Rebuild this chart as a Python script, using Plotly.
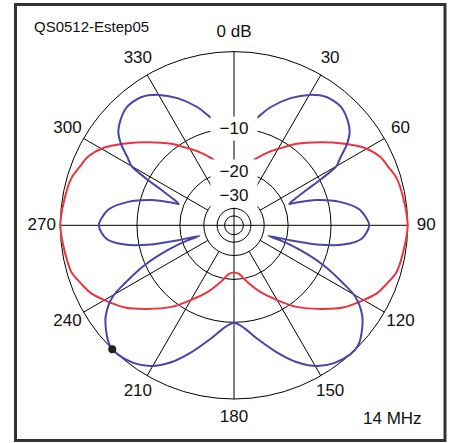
import plotly.graph_objects as go

# ---------------- data ----------------
RING_DB = [0, -10, -20, -30, -40, -50]
LABEL_DB = [-10, -20, -30]
LABEL_TEXT = ["\u221210", "\u221220", "\u221230"]
ANGLE_TICKS = [0, 30, 60, 90, 120, 150, 180, 210, 240, 270, 300, 330]
ANGLE_TEXT = ["0 dB", "30", "60", "90", "120", "150", "180", "210", "240", "270", "300", "330"]
SPOKE_ANGLES = [30, 60, 120, 150, 210, 240, 300, 330]
SPOKE_START_DB = -30
DIAMETER_ANGLES = [0, 90]

blue_theta = [0, 6, 12, 17, 24, 30, 36, 42, 47, 51, 54.5, 57.5, 60, 62, 64, 67, 69, 70, 73, 77.5,
              83, 90, 96, 100, 103, 105, 107, 108, 110.5, 114, 118, 120.5, 125, 129, 134, 138,
              144, 149.5, 155.5, 161.5, 168.5, 175, 180,
              185, 191.5, 198.5, 204.5, 210.5, 216, 222, 226, 231, 235, 239.5, 242, 246, 249.5,
              252, 253, 255, 257, 260, 264, 270, 277, 282.5, 287, 290, 291, 293, 296, 298, 300,
              302.5, 305.5, 309, 313, 318, 324, 330, 336, 343, 348, 354, 360]
blue_db = [-10.5, -9.6, -7.9, -5.9, -3.8, -2.45, -1.6, -1.45, -1.95, -2.65, -3.9, -5.5, -6.6, -9.6,
           -13.1, -17.0, -18.5, -16.4, -12.0, -8.1, -5.4, -4.3, -5.2, -7.7, -12.3, -18.9, -27.0,
           -22.0, -15.5, -9.9, -5.8, -3.6, -1.8, -0.9, -0.1, 0.0, -0.33, -1.06, -2.5, -4.5, -7.0,
           -9.1, -9.9,
           -9.1, -7.0, -4.5, -2.5, -1.06, -0.33, 0.0, -0.1, -0.9, -1.8, -3.6, -5.8, -9.9, -15.5,
           -22.0, -27.0, -18.9, -12.3, -7.7, -5.2, -4.3, -5.4, -8.1, -12.0, -16.4, -18.5, -17.0,
           -13.1, -9.6, -6.6, -5.5, -3.9, -2.65, -1.95, -1.45, -1.6, -2.45, -3.8, -5.9, -7.9,
           -9.6, -10.5]

red_theta = [0, 8, 14, 19, 25, 31, 37.5, 46, 53, 59, 65, 68.5, 74, 81, 90, 99, 106, 111, 115.5,
             120, 127, 134, 142.5, 150, 158.5, 168, 174, 180,
             186, 192, 201.5, 210, 217.5, 226, 233, 240, 244.5, 249, 254, 261, 270, 279, 286,
             291.5, 295, 301, 307, 314, 322.5, 329, 335, 341, 346, 352, 360]
red_db = [-21.0, -19.5, -17.3, -15.3, -13.2, -11.3, -9.0, -6.4, -4.2, -2.4, -1.25, -0.95, -0.43,
          -0.22, 0.0, -0.24, -0.45, -1.04, -1.6, -2.57, -4.13, -6.3, -9.0, -12.0, -15.2, -19.3,
          -21.8, -22.4,
          -21.8, -19.3, -15.2, -12.0, -9.0, -6.3, -4.13, -2.57, -1.6, -1.04, -0.45, -0.24, 0.0,
          -0.22, -0.43, -0.95, -1.25, -2.4, -4.2, -6.4, -9.0, -11.3, -13.2, -15.3, -17.3, -19.5,
          -21.0]

peak_theta = [224.5]
peak_db = [0.0]

TITLE = "QS0512-Estep05"
FREQ = "14 MHz"


def arrl(db):
    """ARRL log-periodic radial scale: 0.89 per 2 dB."""
    return 0.89 ** (-db / 2.0)


# ---------------- style ----------------
FONT = "Liberation Sans, Arial, sans-serif"
BLUE = "#4646a6"
RED = "#ea3440"
W, H = 451, 443
CX, CY = 234.0, 225.3       # centre of the chart in pixels (from top-left)
R0 = 173.7                  # pixel radius of the 0 dB circle
RMAX = 1.2                  # radial range so that angle labels fit inside
LABEL_R = 1.107             # angle labels sit just outside the 0 dB circle

RP = R0 * RMAX
DOM_X = [(CX - RP) / W, (CX + RP) / W]
DOM_Y = [(H - CY - RP) / H, (H - CY + RP) / H]

fig = go.Figure()

# spokes
for a in SPOKE_ANGLES:
    fig.add_trace(go.Scatterpolar(r=[arrl(SPOKE_START_DB), 1.0], theta=[a, a], mode="lines",
                                  line=dict(color="black", width=1), hoverinfo="skip",
                                  showlegend=False))
for a in DIAMETER_ANGLES:
    fig.add_trace(go.Scatterpolar(r=[1.0, 0.0, 1.0], theta=[a, a, a + 180], mode="lines",
                                  line=dict(color="black", width=1), hoverinfo="skip",
                                  showlegend=False))

fig.add_trace(go.Scatterpolar(r=[arrl(d) for d in red_db], theta=red_theta, mode="lines",
                              line=dict(color=RED, width=2, shape="spline", smoothing=0.8),
                              showlegend=False))
fig.add_trace(go.Scatterpolar(r=[arrl(d) for d in blue_db], theta=blue_theta, mode="lines",
                              line=dict(color=BLUE, width=2, shape="spline", smoothing=0.8),
                              showlegend=False))
fig.add_trace(go.Scatterpolar(r=[arrl(d) for d in peak_db], theta=peak_theta, mode="markers",
                              marker=dict(color="#222222", size=8), showlegend=False,
                              cliponaxis=False))
# angle labels
fig.add_trace(go.Scatterpolar(r=[LABEL_R] * len(ANGLE_TICKS), theta=ANGLE_TICKS, mode="text",
                              text=ANGLE_TEXT, textposition="middle center",
                              textfont=dict(family=FONT, size=17, color="#111111"),
                              cliponaxis=False, showlegend=False, hoverinfo="skip"))

fig.update_layout(
    width=W, height=H,
    margin=dict(l=0, r=0, t=0, b=0),
    paper_bgcolor="white",
    font=dict(family=FONT, size=17, color="#111111"),
    polar=dict(
        domain=dict(x=DOM_X, y=DOM_Y),
        bgcolor="rgba(0,0,0,0)",
        radialaxis=dict(range=[0, RMAX], tickvals=[arrl(d) for d in RING_DB],
                        showticklabels=False, ticks="", showline=False, gridcolor="black",
                        gridwidth=1, angle=90),
        angularaxis=dict(rotation=90, direction="clockwise", tickvals=ANGLE_TICKS,
                         showticklabels=False, showgrid=False, ticks="", showline=False),
    ),
)

cx = (DOM_X[0] + DOM_X[1]) / 2
cy = (DOM_Y[0] + DOM_Y[1]) / 2
ry = (DOM_Y[1] - DOM_Y[0]) / 2 / RMAX
for d, t in zip(LABEL_DB, LABEL_TEXT):
    fig.add_annotation(x=cx, y=cy + arrl(d) * ry, xref="paper", yref="paper", text=t,
                       showarrow=False, bgcolor="white", width=44, height=21,
                       xanchor="center", yanchor="middle",
                       font=dict(family=FONT, size=17, color="#111111"))

fig.add_annotation(x=32 / W, y=1 - 26 / H, xref="paper", yref="paper", text=TITLE,
                   showarrow=False, xanchor="left", yanchor="middle",
                   font=dict(family=FONT, size=15, color="#111111"))
fig.add_annotation(x=424 / W, y=1 - 418 / H, xref="paper", yref="paper", text=FREQ,
                   showarrow=False, xanchor="right", yanchor="middle",
                   font=dict(family=FONT, size=17, color="#111111"))

fig.add_shape(type="rect", xref="paper", yref="paper", x0=15.5 / W, x1=445 / W,
              y0=1 - 440.5 / H, y1=1 - 4.5 / H, line=dict(color="#333333", width=3))

fig.write_html("out.html")
